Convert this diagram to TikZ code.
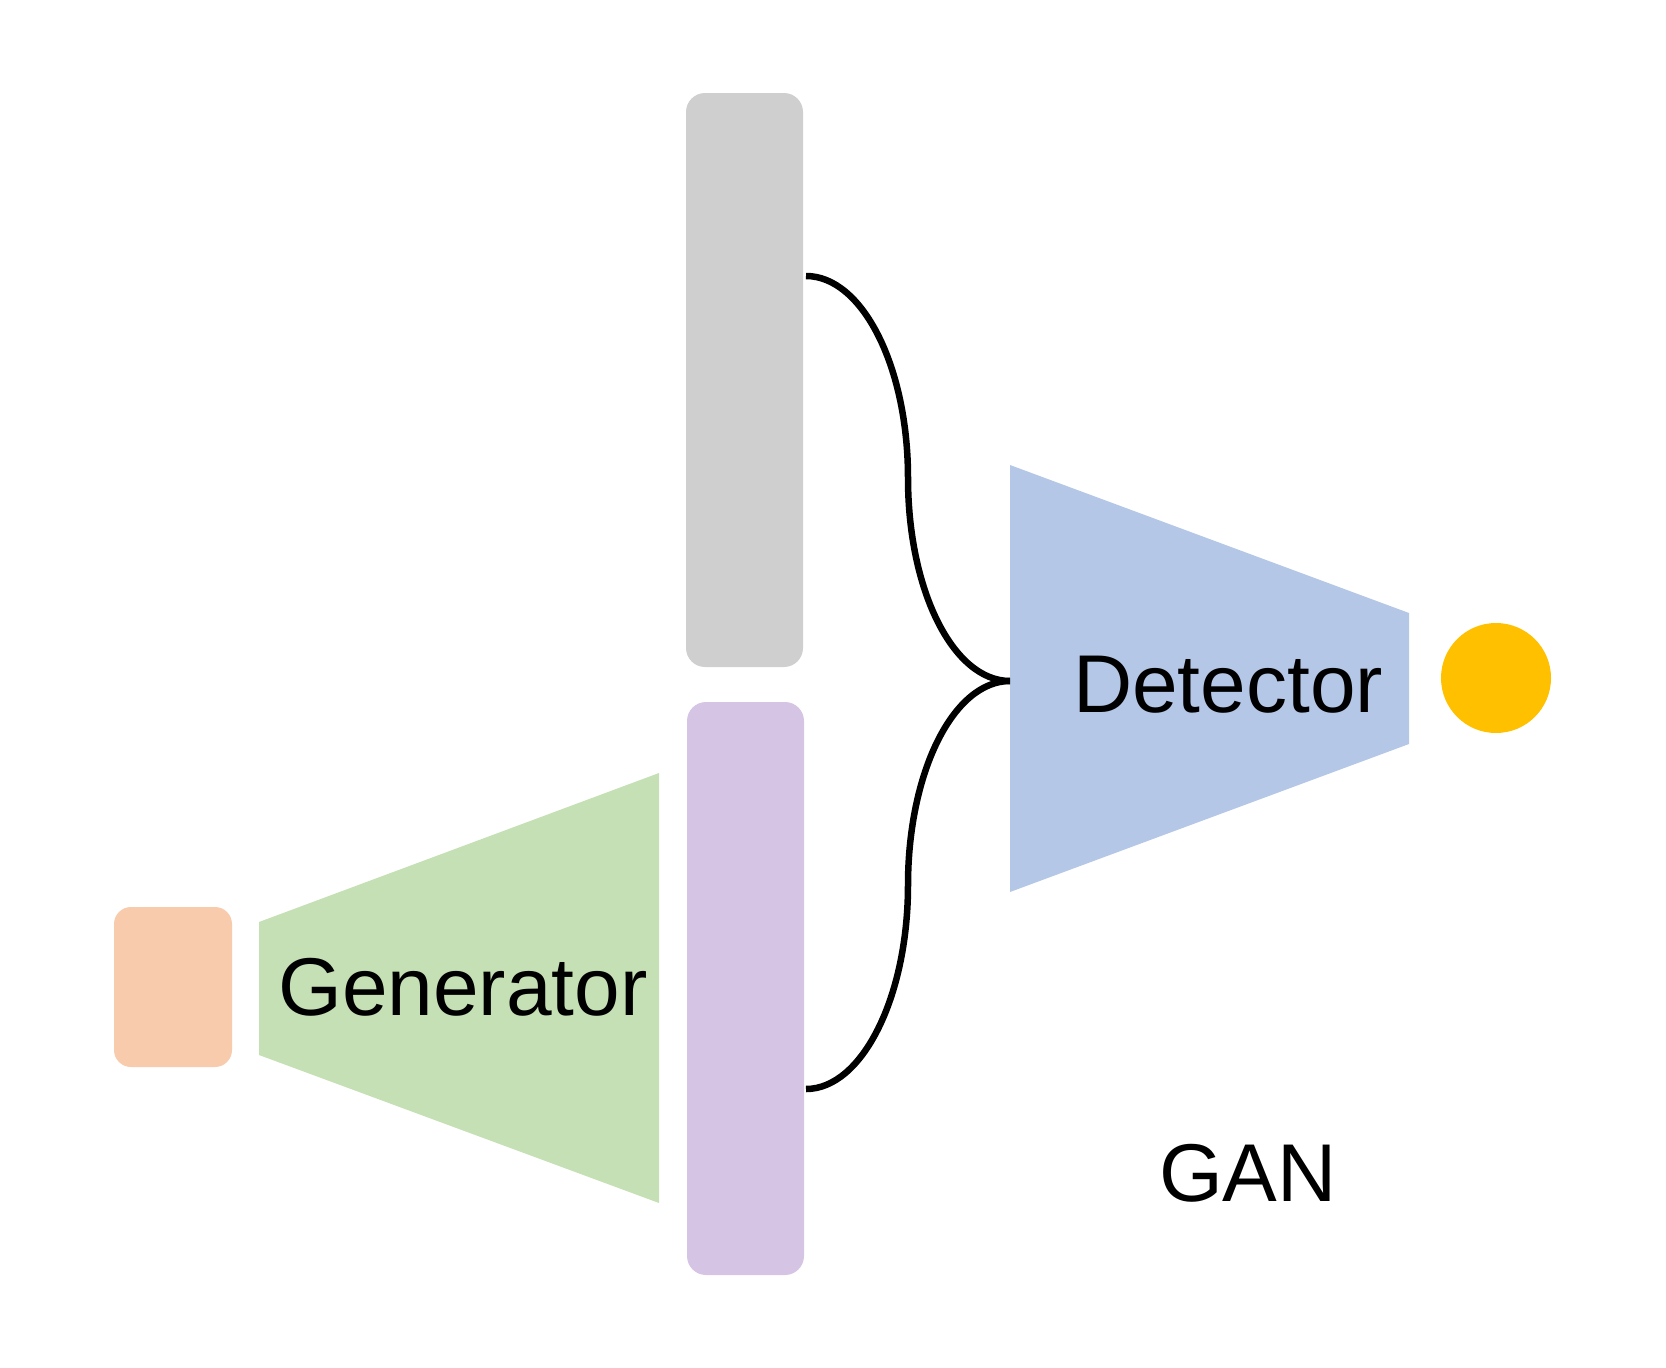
\documentclass[tikz,border=0pt]{standalone}
\usepackage{fontspec}
\setmainfont{Liberation Sans}
\definecolor{grayc}{HTML}{D0CFD0}
\definecolor{purplec}{HTML}{D5C4E3}
\definecolor{orangec}{HTML}{F8CBAD}
\definecolor{greenc}{HTML}{C5E0B4}
\definecolor{bluec}{HTML}{B4C7E7}
\definecolor{yellowc}{HTML}{FFC000}
\begin{document}
\begin{tikzpicture}[x=1pt,y=-1pt,
  bar/.style={rounded corners=19pt, inner sep=0pt, outer sep=0pt, draw=none},
  lbl/.style={font=\fontsize{82}{98}\selectfont, inner sep=0pt, anchor=base, text=black},
  conn/.style={line width=6.5pt, draw=black}]
\useasboundingbox (0,0) rectangle (1666,1368);
% bars
\node[bar, fill=grayc, minimum width=117pt, minimum height=574pt] (real) at (744.5,380) {};
\node[bar, fill=purplec, minimum width=117pt, minimum height=573pt] (fake) at (745.5,988.5) {};
\node[bar, rounded corners=17pt, fill=orangec, minimum width=118pt, minimum height=160pt] (noise) at (173,987) {};
% trapezoids
\fill[greenc] (259,922) -- (659,773) -- (659,1203) -- (259,1055) -- cycle;
\fill[bluec] (1010,465) -- (1409,613) -- (1409,744) -- (1010,892) -- cycle;
% output
\node[circle, fill=yellowc, minimum size=110pt, inner sep=0pt] (out) at (1496,678) {};
% labels
\node[lbl] (gen) at (463,1015) {Generator};
\node[lbl] (det) at (1228,712) {Detector};
\node[lbl] (gan) at (1248,1201) {GAN};
% connectors
\coordinate (s1) at (806,276);
\coordinate (s2) at (806,1089);
\coordinate (j) at (1010,681);
\draw[conn] (s1) .. controls (862,276) and (908,366) .. (908,478)
                 .. controls (908,590) and (953,681) .. (j);
\draw[conn] (s2) .. controls (862,1089) and (908,997) .. (908,885)
                 .. controls (908,773) and (953,681) .. (j);
\end{tikzpicture}
\end{document}
